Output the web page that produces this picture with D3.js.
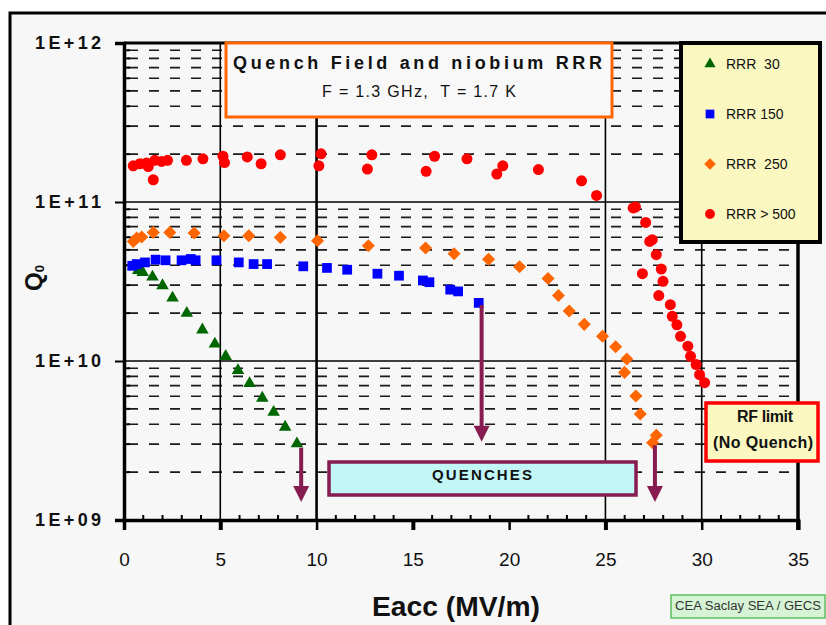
<!DOCTYPE html>
<html>
<head>
<meta charset="utf-8">
<script src="https://cdn.jsdelivr.net/npm/d3@7"></script>
<style>
  body { margin: 0; background: #fff; }
  text { font-family: "Liberation Sans", Arial, sans-serif; white-space: pre; }
</style>
</head>
<body>
<div id="chart"></div>
<script>
// Q0 against Eacc (MV/m), one list of [Eacc, Q0] per niobium grade
const rrr30 = [
  [0.48, 3.94e10], [0.74, 3.72e10], [0.97, 3.61e10], [1.48, 3.38e10], [2.00, 2.98e10],
  [2.52, 2.49e10], [3.26, 2.00e10], [4.07, 1.57e10], [4.72, 1.28e10], [5.28, 1.07e10],
  [5.92, 8.73e9], [6.52, 7.22e9], [7.18, 5.85e9], [7.77, 4.77e9], [8.37, 3.84e9], [8.98, 3.02e9]
];
const rrr150 = [
  [0.43, 3.97e10], [0.66, 4.07e10], [1.09, 4.17e10], [1.64, 4.34e10], [2.16, 4.30e10],
  [2.99, 4.30e10], [3.47, 4.38e10], [3.72, 4.30e10], [4.80, 4.30e10], [5.96, 4.17e10],
  [6.73, 4.07e10], [7.43, 4.07e10], [9.31, 3.94e10], [10.54, 3.85e10], [11.59, 3.75e10],
  [13.16, 3.54e10], [14.28, 3.44e10], [15.52, 3.21e10], [15.86, 3.13e10], [16.94, 2.81e10],
  [17.35, 2.74e10], [18.42, 2.32e10]
];
const rrr250 = [
  [0.48, 5.65e10], [0.66, 5.94e10], [0.92, 6.03e10], [1.52, 6.44e10], [2.38, 6.44e10],
  [3.64, 6.38e10], [5.19, 6.14e10], [6.48, 6.14e10], [8.12, 5.99e10], [10.05, 5.71e10],
  [12.69, 5.31e10], [15.66, 5.14e10], [17.14, 4.73e10], [18.93, 4.37e10], [20.54, 3.92e10],
  [22.02, 3.30e10], [22.56, 2.58e10], [23.12, 2.06e10], [23.90, 1.70e10], [24.85, 1.43e10],
  [25.53, 1.23e10], [26.11, 1.03e10], [25.99, 8.48e9], [26.58, 6.03e9], [26.81, 4.64e9],
  [27.64, 3.41e9], [27.45, 3.06e9]
];
const rrr500 = [
  [0.48, 1.69e11], [0.83, 1.74e11], [1.17, 1.76e11], [1.26, 1.67e11], [1.60, 1.83e11],
  [1.52, 1.38e11], [1.95, 1.80e11], [2.26, 1.83e11], [3.24, 1.83e11], [4.10, 1.87e11],
  [5.14, 1.94e11], [5.22, 1.77e11], [6.40, 1.92e11], [7.12, 1.74e11], [8.12, 1.98e11],
  [10.23, 2.01e11], [10.12, 1.69e11], [12.87, 1.98e11], [12.64, 1.61e11], [16.13, 1.94e11],
  [15.69, 1.56e11], [17.81, 1.87e11], [19.67, 1.69e11], [19.36, 1.50e11], [21.52, 1.60e11],
  [23.76, 1.36e11], [24.54, 1.10e11], [26.44, 9.17e10], [26.56, 9.30e10], [27.09, 7.44e10],
  [27.43, 5.79e10], [27.30, 5.65e10], [27.64, 4.66e10], [27.90, 3.79e10], [26.92, 3.54e10],
  [27.99, 3.17e10], [27.77, 2.58e10], [28.37, 2.26e10], [28.47, 1.91e10], [28.71, 1.69e10],
  [28.90, 1.43e10], [29.28, 1.24e10], [29.42, 1.07e10], [29.71, 9.50e9], [29.89, 8.20e9],
  [30.15, 7.30e9]
];
const seriesNames = ["RRR  30", "RRR 150", "RRR  250", "RRR > 500"];

const xTicks = [0, 5, 10, 15, 20, 25, 30, 35];
const xGrid = [5, 10, 25, 30];
const yTicks = [1e9, 1e10, 1e11, 1e12];
const yTickLabels = ["1E+09", "1E+10", "1E+11", "1E+12"];
// quench arrows: [Eacc, Q0 from, Q0 to]
const quenchArrows = [[9.2, 2.85e9, 1.3e9], [18.57, 2.25e10, 3.1e9], [27.57, 2.95e9, 1.3e9]];

const width = 826, height = 625;
const svg = d3.select("#chart").append("svg")
  .attr("width", width).attr("height", height);

const x = d3.scaleLinear().domain([0, 35]).range([124, 798]);
const y = d3.scaleLog().domain([1e9, 1e12]).range([520, 43]);

// page frame
svg.append("rect").attr("x", 10).attr("y", 13).attr("width", 820).attr("height", 620)
  .attr("fill", "#f7f7f7");
svg.append("path").attr("d", "M10,630V13H830").attr("fill", "none")
  .attr("stroke", "#000").attr("stroke-width", 3);

// minor dashed grid
const minor = [];
[1e9, 1e10, 1e11].forEach(d => { for (let m = 2; m <= 9; m++) minor.push(m * d); });
svg.append("g").selectAll("line").data(minor).enter().append("line")
  .attr("x1", x(0) + 4).attr("x2", x(35))
  .attr("y1", d => y(d)).attr("y2", d => y(d))
  .attr("stroke", "#1a1a1a").attr("stroke-width", 1.6)
  .attr("stroke-dasharray", "10,11");
// minor ticks on the left axis
svg.append("g").selectAll("line").data(minor).enter().append("line")
  .attr("x1", x(0)).attr("x2", x(0) + 6)
  .attr("y1", d => y(d)).attr("y2", d => y(d))
  .attr("stroke", "#000").attr("stroke-width", 2);

// major horizontal lines
svg.append("g").selectAll("line").data([1e10, 1e11]).enter().append("line")
  .attr("x1", x(0)).attr("x2", x(35))
  .attr("y1", d => y(d)).attr("y2", d => y(d))
  .attr("stroke", "#000").attr("stroke-width", 1.6);

// vertical grid
svg.append("g").selectAll("line").data(xGrid).enter().append("line")
  .attr("x1", d => x(d)).attr("x2", d => x(d))
  .attr("y1", y(1e12)).attr("y2", y(1e9))
  .attr("stroke", "#000").attr("stroke-width", d => d === 10 ? 2.6 : 1.6);

// axes
const xAxis = svg.append("g").attr("transform", `translate(0,${y(1e9)})`)
  .call(d3.axisBottom(x).tickValues(xTicks).tickSize(10).tickPadding(23));
xAxis.select(".domain").attr("stroke", "#000").attr("stroke-width", 3.5);
xAxis.selectAll(".tick line").attr("stroke-width", (d, i) => i % 2 ? 4 : 2.5);
xAxis.selectAll(".tick text").attr("font-size", 19).attr("fill", "#111")
  .attr("font-family", "Liberation Sans, Arial, sans-serif");
// minor x ticks every 1 MV/m
svg.append("g").selectAll("line").data(d3.range(1, 35).filter(v => v % 5)).enter().append("line")
  .attr("x1", d => x(d)).attr("x2", d => x(d))
  .attr("y1", y(1e9) - 5).attr("y2", y(1e9))
  .attr("stroke", "#000").attr("stroke-width", 2);

const yAxis = svg.append("g").attr("transform", `translate(${x(0)},0)`)
  .call(d3.axisLeft(y).tickValues(yTicks).tickSize(9).tickPadding(14)
    .tickFormat((d, i) => yTickLabels[i]));
yAxis.select(".domain").attr("stroke", "#000").attr("stroke-width", 3.5);
yAxis.selectAll(".tick line").attr("stroke-width", 2);
yAxis.selectAll(".tick text").attr("font-size", 18).attr("font-weight", "bold")
  .attr("fill", "#111").attr("font-family", "Liberation Sans, Arial, sans-serif")
  .attr("textLength", 66).attr("lengthAdjust", "spacing");

// right border of the plot
svg.append("line").attr("x1", x(35)).attr("x2", x(35))
  .attr("y1", y(1e12)).attr("y2", y(1e9) + 10)
  .attr("stroke", "#000").attr("stroke-width", 3.5);
svg.append("line").attr("x1", x(0)).attr("x2", x(35))
  .attr("y1", y(1e12)).attr("y2", y(1e12))
  .attr("stroke", "#000").attr("stroke-width", 3);

// title box
svg.append("rect").attr("x", 226).attr("y", 43).attr("width", 386).attr("height", 74)
  .attr("fill", "#f8f8f8").attr("stroke", "#ff6600").attr("stroke-width", 3);
svg.append("text").attr("x", 233).attr("y", 69).attr("font-size", 18).attr("font-weight", "bold")
  .attr("fill", "#111").attr("textLength", 369).attr("lengthAdjust", "spacing")
  .text("Quench Field and niobium RRR");
svg.append("text").attr("x", 322).attr("y", 97).attr("font-size", 16).attr("fill", "#111")
  .attr("textLength", 194).attr("lengthAdjust", "spacing")
  .text("F = 1.3 GHz,  T = 1.7 K");

// legend box
svg.append("rect").attr("x", 681).attr("y", 43).attr("width", 139).attr("height", 199)
  .attr("fill", "#faf8c0").attr("stroke", "#000").attr("stroke-width", 4);

const series = [
  { data: rrr30, color: "#006600", shape: d3.symbolTriangle, size: 68, rot: 0 },
  { data: rrr150, color: "#0000ff", shape: d3.symbolSquare, size: 95, rot: 0 },
  { data: rrr250, color: "#ff6600", shape: d3.symbolSquare, size: 85, rot: 45 },
  { data: rrr500, color: "#ff0000", shape: d3.symbolCircle, size: 95, rot: 0 }
];

series.forEach((s, i) => {
  const sym = d3.symbol().type(s.shape).size(s.size);
  svg.append("g").selectAll("path").data(s.data).enter().append("path")
    .attr("d", sym)
    .attr("transform", d => `translate(${x(d[0])},${y(d[1])}) rotate(${s.rot})`)
    .attr("fill", s.color);
  const ly = 64 + i * 50;
  svg.append("path").attr("d", d3.symbol().type(s.shape).size(s.size * 0.8))
    .attr("transform", `translate(710,${ly}) rotate(${s.rot})`)
    .attr("fill", s.color);
  svg.append("text").attr("x", 726).attr("y", ly + 5).attr("font-size", 14)
    .attr("fill", "#111").text(seriesNames[i]);
});

// quench arrows
const arrowColor = "#861c4f";
quenchArrows.forEach(a => {
  const ax = x(a[0]), y0 = y(a[1]), y1 = y(a[2]);
  svg.append("line").attr("x1", ax).attr("x2", ax).attr("y1", y0).attr("y2", y1 - 14)
    .attr("stroke", arrowColor).attr("stroke-width", 4);
  svg.append("path").attr("d", `M${ax - 8},${y1 - 16}L${ax + 8},${y1 - 16}L${ax},${y1}Z`)
    .attr("fill", arrowColor);
});

// quenches box
svg.append("rect").attr("x", 329).attr("y", 462).attr("width", 307).attr("height", 33)
  .attr("fill", "#c2f6f7").attr("stroke", arrowColor).attr("stroke-width", 3.5);
svg.append("text").attr("x", 432).attr("y", 480).attr("font-size", 15).attr("font-weight", "bold")
  .attr("fill", "#111").attr("textLength", 100).attr("lengthAdjust", "spacing")
  .text("QUENCHES");

// RF limit box
svg.append("rect").attr("x", 706).attr("y", 403).attr("width", 112).attr("height", 58)
  .attr("fill", "#faf8c0").attr("stroke", "#ff0000").attr("stroke-width", 3.5);
svg.append("text").attr("x", 737).attr("y", 422).attr("font-size", 16).attr("font-weight", "bold")
  .attr("fill", "#111").attr("textLength", 56).attr("lengthAdjust", "spacing").text("RF limit");
svg.append("text").attr("x", 713).attr("y", 448).attr("font-size", 16).attr("font-weight", "bold")
  .attr("fill", "#111").attr("textLength", 100).attr("lengthAdjust", "spacing").text("(No Quench)");

// axis titles
svg.append("text").attr("x", 372).attr("y", 616).attr("font-size", 27).attr("font-weight", "bold")
  .attr("fill", "#111").attr("textLength", 168).attr("lengthAdjust", "spacingAndGlyphs")
  .text("Eacc (MV/m)");
const qLabel = svg.append("text").attr("transform", "translate(42,291) rotate(-90)")
  .attr("font-size", 24).attr("font-weight", "bold").attr("fill", "#111");
qLabel.append("tspan").text("Q");
qLabel.append("tspan").attr("font-size", 13).attr("dy", 2).text("0");

// credit
svg.append("rect").attr("x", 671).attr("y", 595).attr("width", 154).attr("height", 23)
  .attr("fill", "#d6f3d6").attr("stroke", "#5cc05c").attr("stroke-width", 1.5);
svg.append("text").attr("x", 675).attr("y", 610).attr("font-size", 12).attr("fill", "#333")
  .attr("textLength", 146).attr("lengthAdjust", "spacingAndGlyphs")
  .text("CEA Saclay SEA / GECS");
</script>
</body>
</html>
